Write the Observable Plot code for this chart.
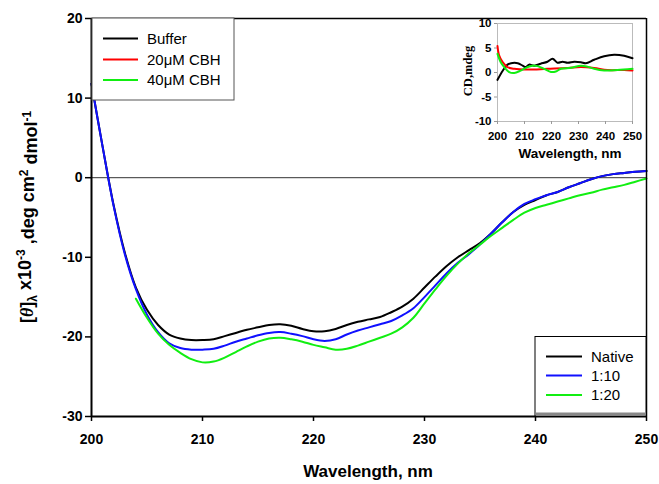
<!DOCTYPE html>
<html><head><meta charset="utf-8">
<script src="https://cdn.jsdelivr.net/npm/d3@7"></script>
<script src="https://cdn.jsdelivr.net/npm/@observablehq/plot@0.6"></script>
<style>
body{margin:0;background:#fff;}
#wrap{position:relative;width:659px;height:484px;font-family:Arial,"Liberation Sans",sans-serif;}
#wrap svg{position:absolute;top:0;}
</style></head><body><div id="wrap"></div>
<script>
// ---- main chart data ----
const wavelength = [200,201,202,203,204,205,206,207,208,209,210,211,212,213,214,215,216,217,218,219,220,221,222,223,224,225,226,227,228,229,230,231,232,233,234,235,236,237,238,239,240,241,242,243,244,245,246,247,248,249,250];
const nativeVals = [11.8,3.9,-3.5,-9.4,-13.8,-16.6,-18.5,-19.7,-20.2,-20.4,-20.4,-20.3,-19.9,-19.5,-19.1,-18.8,-18.5,-18.4,-18.6,-19.0,-19.3,-19.3,-19.0,-18.5,-18.1,-17.8,-17.5,-16.9,-16.2,-15.2,-13.8,-12.4,-11.1,-10.0,-9.1,-8.2,-7.0,-5.6,-4.3,-3.4,-2.8,-2.2,-1.8,-1.2,-0.7,-0.2,0.2,0.45,0.6,0.75,0.85];
const ratio10Vals = [11.8,3.9,-3.6,-9.6,-14.0,-17.2,-19.4,-20.8,-21.4,-21.6,-21.6,-21.5,-21.1,-20.6,-20.2,-19.8,-19.5,-19.4,-19.6,-19.9,-20.3,-20.5,-20.3,-19.7,-19.2,-18.8,-18.4,-18.0,-17.3,-16.4,-15.0,-13.5,-12.0,-10.7,-9.6,-8.4,-7.0,-5.6,-4.3,-3.3,-2.7,-2.2,-1.8,-1.2,-0.7,-0.2,0.2,0.45,0.6,0.75,0.85];
const ratio20Vals = [null,null,null,null,-15.2,-17.6,-19.6,-21.0,-22.0,-22.8,-23.2,-23.1,-22.6,-21.9,-21.2,-20.6,-20.2,-20.1,-20.3,-20.6,-21.0,-21.3,-21.6,-21.5,-21.1,-20.6,-20.1,-19.6,-18.8,-17.6,-15.8,-14.0,-12.3,-10.8,-9.5,-8.4,-7.3,-6.3,-5.3,-4.4,-3.8,-3.4,-3.0,-2.6,-2.2,-1.9,-1.5,-1.2,-0.9,-0.5,-0.1];
const mainNames = ["Native","1:10","1:20"];
const mainColors = ["#000000","#1010ff","#11ee11"];
const xTicks = [200,210,220,230,240,250];
const yTicks = [-30,-20,-10,0,10,20];

// ---- inset data ----
const insetBufferWl = [200,202,203.7,205,207.5,209.3,210.5,211.7,213.6,216,218.5,220.4,222.2,224.1,226,228.4,230.9,232.7,235.8,239.5,243.2,246.9,250];
const insetBufferCd = [-1.5,0.4,1.6,1.9,1.9,1.4,1.1,1.6,1.4,1.8,2.2,2.8,2.0,2.2,2.0,2.2,2.1,1.9,2.6,3.3,3.6,3.4,2.9];
const insetCbh20Wl = [200,200.6,201.9,203.7,206.2,211.1,218.5,226,230.9,235.8,240.7,246.9,250];
const insetCbh20Cd = [5.4,3.5,2.1,1.1,0.75,0.6,0.75,0.9,1.1,0.9,0.5,0.5,0.4];
const insetCbh40Wl = [200,201.2,202.5,204.3,206.2,208.6,211.1,212.9,214.8,217.3,219.8,221.6,223.5,227.2,230.9,233.3,235.8,239.5,244.4,250];
const insetCbh40Cd = [3.8,2.1,1.1,0.1,-0.1,0.4,1.1,1.4,1.3,0.75,0.1,0.2,0.75,0.95,1.4,1.2,0.75,0.4,0.5,0.75];
const insetNames = ["Buffer","20\u03bcM CBH","40\u03bcM CBH"];
const insetColors = ["#000000","#ff0000","#11ee11"];
const insetYTicks = [-10,-5,0,5,10];

const FONT = "Arial, 'Liberation Sans', sans-serif";
const toRows = (xs, ys) => xs.map((w,i)=>({w, v: ys[i]})).filter(d => d.v != null);
const mainSeries = [nativeVals, ratio10Vals, ratio20Vals].map(v => toRows(wavelength, v));

const main = Plot.plot({
  width: 659, height: 484,
  marginLeft: 91, marginRight: 13, marginTop: 18, marginBottom: 68,
  style: {fontFamily: FONT, background: "transparent", color: "#000", overflow: "visible"},
  x: {domain: [200, 250]},
  y: {domain: [-30, 20]},
  marks: [
    Plot.ruleY([0], {stroke: "#333", strokeWidth: 1}),
    ...mainSeries.map((rows, i) => Plot.line(rows, {x: "w", y: "v", stroke: mainColors[i], strokeWidth: 2, curve: "catmull-rom"})),
    Plot.ruleY([20], {stroke: "#000", strokeWidth: 1.5}),
    Plot.ruleX([250], {stroke: "#000", strokeWidth: 1.5}),
    Plot.ruleX([200], {stroke: "#000", strokeWidth: 2}),
    Plot.ruleY([-30], {stroke: "#000", strokeWidth: 2}),
    Plot.axisX({ticks: xTicks, tickSize: 5, tickPadding: 13, fontSize: 14, label: null, tickFormat: d => String(d)}),
    Plot.axisY({ticks: yTicks, tickSize: 6, tickPadding: 3, fontSize: 14, label: null, tickFormat: d => String(d)})
  ]
});
main.style.left = "0px";
const ms = d3.select(main);
ms.selectAll("g[aria-label$='tick label']").attr("font-weight", "bold").attr("fill", "#000");
ms.selectAll("g[aria-label$='tick'] path").attr("stroke", "#000").attr("stroke-width", 1.5);

// axis titles
ms.append("text").attr("x", 368).attr("y", 477).attr("text-anchor", "middle")
  .attr("font-size", 17).attr("font-weight", "bold").attr("font-family", FONT).text("Wavelength, nm");
const yt = ms.append("text").attr("transform", "translate(33,217) rotate(-90)").attr("text-anchor", "middle")
  .attr("font-size", 18).attr("font-weight", "bold").attr("font-family", FONT);
yt.append("tspan").text("[");
yt.append("tspan").attr("font-style", "italic").attr("font-family", "'Liberation Serif', serif").text("\u03b8");
yt.append("tspan").text("]");
yt.append("tspan").attr("font-size", 12).attr("dy", "0.35em").text("\u03bb");
yt.append("tspan").attr("dy", "-0.35em").text(" x10");
yt.append("tspan").attr("font-size", 12).attr("dy", "-0.5em").text("-3");
yt.append("tspan").attr("dy", "0.5em").text(" ,deg cm");
yt.append("tspan").attr("font-size", 12).attr("dy", "-0.5em").text("2");
yt.append("tspan").attr("dy", "0.5em").text(" dmol");
yt.append("tspan").attr("font-size", 12).attr("dy", "-0.5em").text("-1");

// legends
function legend(svg, x, y, w, h, names, colors, rowY, lx1, lx2, tx, stroke, shadow) {
  const g = svg.append("g").attr("text-anchor", "start");
  g.append("rect").attr("x", x).attr("y", y).attr("width", w).attr("height", h).attr("fill", "#fff").attr("stroke", stroke).attr("stroke-width", 1);
  if (shadow) g.append("rect").attr("x", x + 1).attr("y", y + h - 3.5).attr("width", w - 1).attr("height", 3).attr("fill", "#888");
  names.forEach((n, i) => {
    g.append("line").attr("x1", lx1).attr("x2", lx2).attr("y1", rowY[i]).attr("y2", rowY[i]).attr("stroke", colors[i]).attr("stroke-width", 2);
    g.append("text").attr("x", tx).attr("y", rowY[i]).attr("dy", "0.36em").attr("text-anchor", "start").attr("font-size", 15).attr("font-family", FONT).attr("fill", "#000").text(n);
  });
}
legend(ms, 92, 18, 142, 82, insetNames, insetColors, [38.5, 59.5, 80], 103, 138, 147, "#555", false);
legend(ms, 535, 336.5, 111, 79.5, mainNames, mainColors, [356.5, 375.5, 395], 546, 582, 591, "#000", true);

// ---- inset ----
const insetSeries = [[insetBufferWl, insetBufferCd], [insetCbh20Wl, insetCbh20Cd], [insetCbh40Wl, insetCbh40Cd]].map(([a, b]) => toRows(a, b));
const inset = Plot.plot({
  width: 199, height: 170,
  marginLeft: 37, marginRight: 27, marginTop: 23, marginBottom: 49,
  style: {fontFamily: FONT, background: "transparent", color: "#000", overflow: "visible"},
  x: {domain: [200, 250]},
  y: {domain: [-10, 10]},
  marks: [
    Plot.frame({stroke: "#bbb"}),
    ...insetSeries.map((rows, i) => Plot.line(rows, {x: "w", y: "v", stroke: insetColors[i], strokeWidth: 2, curve: "catmull-rom"})),
    Plot.axisX({ticks: xTicks, tickSize: 3, tickPadding: 7, fontSize: 11.5, label: null, tickFormat: d => String(d)}),
    Plot.axisY({ticks: insetYTicks, tickSize: 3, tickPadding: 3, fontSize: 11.5, label: null, tickFormat: d => String(d)})
  ]
});
inset.style.left = "460px";
const is = d3.select(inset);
is.selectAll("g[aria-label$='tick label']").attr("font-weight", "bold").attr("fill", "#000");
is.selectAll("g[aria-label$='tick'] path").attr("stroke", "#999");
is.append("text").attr("x", 110).attr("y", 158).attr("text-anchor", "middle")
  .attr("font-size", 13.5).attr("font-weight", "bold").attr("font-family", FONT).text("Wavelength, nm");
is.append("text").attr("transform", "translate(12,71) rotate(-90)").attr("text-anchor", "middle")
  .attr("font-size", 12.5).attr("font-weight", "bold").attr("font-family", "'Liberation Serif', serif").text("CD,mdeg");

const wrap = document.getElementById("wrap");
wrap.appendChild(main);
wrap.appendChild(inset);
</script></body></html>
